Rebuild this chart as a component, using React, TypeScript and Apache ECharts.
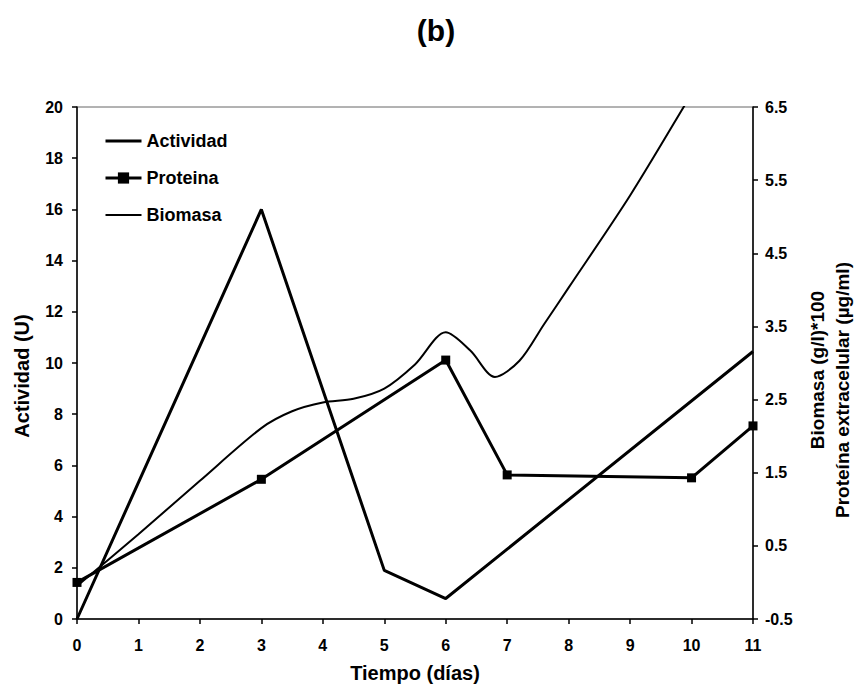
import React, { useEffect, useRef } from "react";
import * as echarts from "echarts";

// Actividad (U) - left axis
const actividadX = [0, 3, 5, 6, 11];
const actividadY = [0, 16, 1.9, 0.8, 10.45];

// Proteina (µg/ml) - right axis
const proteinaX = [0, 3, 6, 7, 10, 11];
const proteinaY = [0.0, 1.41, 3.04, 1.47, 1.43, 2.14];

// Biomasa (g/l)*100 - right axis (smoothed curve)
const biomasaX = [0, 1, 2, 3, 3.5, 4, 4.5, 5, 5.5, 6, 6.4, 6.8, 7.2, 7.6, 8, 9, 10, 10.5];
const biomasaY = [-0.05, 0.66, 1.39, 2.11, 2.34, 2.46, 2.51, 2.65, 2.98, 3.42, 3.17, 2.81, 3.03, 3.53, 4.03, 5.29, 6.68, 7.38];

const leftTicks = { min: 0, max: 20, interval: 2 };
const rightTicks = [-0.5, 0.5, 1.5, 2.5, 3.5, 4.5, 5.5, 6.5];
const xTicks = { min: 0, max: 11, interval: 1 };

const FONT = "'Liberation Sans', Arial, sans-serif";

export default function App() {
  const ref = useRef<HTMLDivElement>(null);
  useEffect(() => {
    if (!ref.current) return;
    const chart = echarts.init(ref.current, undefined, { renderer: "svg" });
    const zip = (xs: number[], ys: number[]) => xs.map((x, i) => [x, ys[i]]);
    const labelStyle = { color: "#000", fontFamily: FONT, fontWeight: "bold" as const, fontSize: 16 };
    chart.setOption({
      animation: false,
      backgroundColor: "#fff",
      textStyle: { fontFamily: FONT },
      grid: {
        left: 77,
        right: 105,
        top: 107,
        bottom: 66,
        containLabel: false,
        show: true,
        borderColor: "#666",
        borderWidth: 1,
      },
      legend: {
        orient: "vertical",
        left: 99,
        top: 127,
        itemWidth: 36,
        itemHeight: 14,
        itemGap: 19,
        data: [
          { name: "Actividad", itemStyle: { opacity: 0 }, lineStyle: { width: 3, color: "#000" } },
          { name: "Proteina", lineStyle: { width: 3, color: "#000" } },
          { name: "Biomasa", itemStyle: { opacity: 0 }, lineStyle: { width: 2, color: "#000" } },
        ],
        textStyle: { color: "#000", fontFamily: FONT, fontSize: 18, fontWeight: "bold", lineHeight: 18 },
      },
      xAxis: {
        type: "value",
        min: xTicks.min,
        max: xTicks.max,
        interval: xTicks.interval,
        name: "Tiempo (días)",
        nameLocation: "middle",
        nameGap: 44,
        nameTextStyle: { color: "#000", fontFamily: FONT, fontWeight: "bold", fontSize: 20 },
        axisLine: { show: true, lineStyle: { color: "#000", width: 1.5 } },
        axisTick: { show: true, length: 5, lineStyle: { color: "#000", width: 1.5 } },
        axisLabel: { ...labelStyle, margin: 18 },
        splitLine: { show: false },
      },
      yAxis: [
        {
          type: "value",
          position: "left",
          min: leftTicks.min,
          max: leftTicks.max,
          interval: leftTicks.interval,
          axisLine: { show: true, lineStyle: { color: "#000", width: 1.5 } },
          axisTick: { show: true, length: 5, lineStyle: { color: "#000", width: 1.5 } },
          axisLabel: { ...labelStyle, margin: 14 },
          splitLine: { show: false },
        },
        {
          type: "value",
          position: "right",
          min: -0.5,
          max: 6.5,
          axisLine: { show: true, lineStyle: { color: "#000", width: 1.5 } },
          axisTick: { show: true, length: 5, customValues: rightTicks, lineStyle: { color: "#000", width: 1.5 } },
          axisLabel: {
            ...labelStyle,
            margin: 12,
            customValues: rightTicks,
            formatter: (v: number) => v.toFixed(1),
          },
          splitLine: { show: false },
        },
      ],
      series: [
        {
          name: "Actividad",
          type: "line",
          yAxisIndex: 0,
          data: zip(actividadX, actividadY),
          symbol: "none",
          lineStyle: { color: "#000", width: 3 },
          itemStyle: { color: "#000" },
        },
        {
          name: "Proteina",
          type: "line",
          yAxisIndex: 1,
          data: zip(proteinaX, proteinaY),
          symbol: "rect",
          symbolSize: 9,
          lineStyle: { color: "#000", width: 3 },
          itemStyle: { color: "#000" },
        },
        {
          name: "Biomasa",
          type: "line",
          yAxisIndex: 1,
          data: zip(biomasaX, biomasaY),
          symbol: "none",
          smooth: 0.3,
          clip: true,
          lineStyle: { color: "#000", width: 2 },
          itemStyle: { color: "#000" },
        },
      ],
      graphic: [
        {
          type: "text",
          x: 436,
          y: 30,
          style: { text: "(b)", fill: "#000", font: `bold 30px ${FONT}`, textAlign: "center", textVerticalAlign: "middle" },
        },
        {
          type: "text",
          x: 22,
          y: 376,
          rotation: Math.PI / 2,
          style: { text: "Actividad (U)", fill: "#000", font: `bold 20px ${FONT}`, textAlign: "center", textVerticalAlign: "middle" },
        },
        {
          type: "text",
          x: 817,
          y: 370,
          rotation: Math.PI / 2,
          style: { text: "Biomasa (g/l)*100", fill: "#000", font: `bold 19px ${FONT}`, textAlign: "center", textVerticalAlign: "middle" },
        },
        {
          type: "text",
          x: 842,
          y: 390,
          rotation: Math.PI / 2,
          style: { text: "Proteína extracelular (µg/ml)", fill: "#000", font: `bold 19px ${FONT}`, textAlign: "center", textVerticalAlign: "middle" },
        },
      ],
    });
    return () => chart.dispose();
  }, []);
  return (
    <div
      ref={ref}
      style={{ position: "fixed", left: 0, top: 0, width: 858, height: 688, background: "#fff" }}
    />
  );
}
